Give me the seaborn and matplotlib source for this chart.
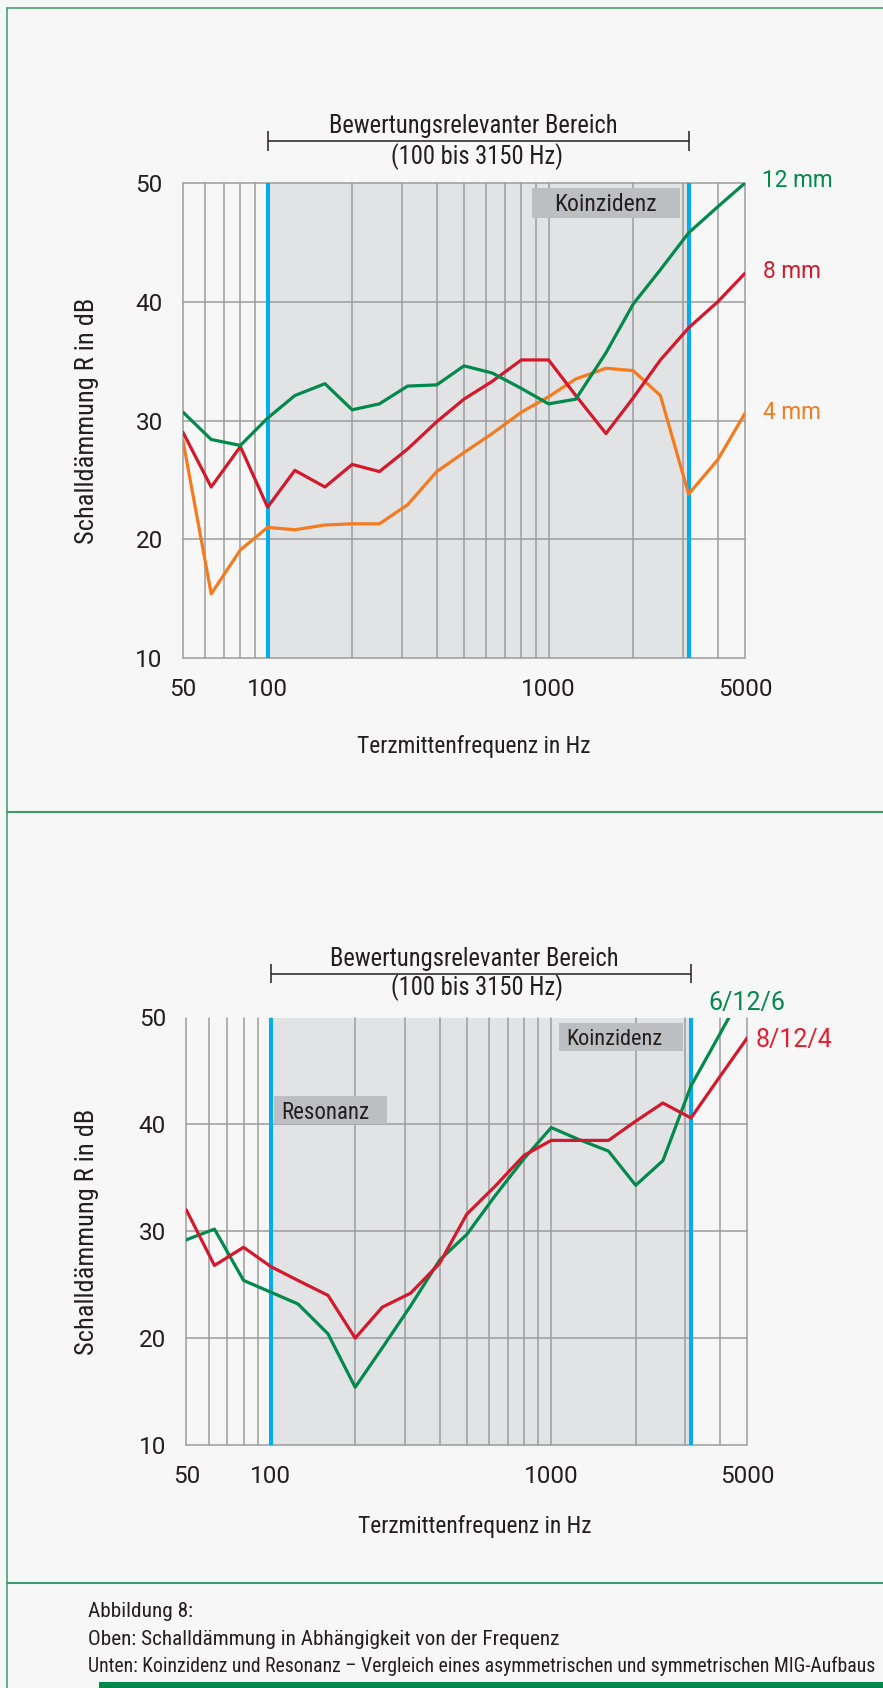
import matplotlib
matplotlib.use('Agg')
import matplotlib.pyplot as plt
import seaborn as sns
from matplotlib import font_manager as fm
from matplotlib.patches import Rectangle
from matplotlib.lines import Line2D
from matplotlib.ticker import NullFormatter, FixedLocator, FixedFormatter
from matplotlib.font_manager import FontProperties

# ---------------- data ----------------
FREQ = [50, 63, 80, 100, 125, 160, 200, 250, 315, 400, 500, 630, 800,
        1000, 1250, 1600, 2000, 2500, 3150, 4000, 5000]

# top chart
R_12MM = [30.7, 28.4, 27.9, 30.2, 32.1, 33.1, 30.9, 31.4, 32.9, 33.0, 34.6,
          34.0, 32.7, 31.4, 31.8, 35.7, 39.8, 42.7, 45.8, 48.0, 50.0]
R_8MM = [29.0, 24.4, 27.8, 22.7, 25.8, 24.4, 26.3, 25.7, 27.6, 29.9, 31.8,
         33.3, 35.1, 35.1, 32.1, 28.9, 31.9, 35.1, 37.8, 40.0, 42.4]
R_4MM = [28.3, 15.4, 19.1, 21.0, 20.8, 21.2, 21.3, 21.3, 22.9, 25.7, 27.3,
         28.9, 30.7, 32.0, 33.5, 34.4, 34.2, 32.1, 23.8, 26.7, 30.6]

# bottom chart
R_6_12_6 = [29.2, 30.2, 25.4, 24.3, 23.2, 20.4, 15.4, 19.1, 23.0, 27.3, 29.7,
            33.3, 36.8, 39.7, 38.6, 37.5, 34.3, 36.6, 43.6, 48.5, 53.1]
R_8_12_4 = [32.0, 26.8, 28.5, 26.7, 25.4, 24.0, 20.0, 22.9, 24.2, 27.0, 31.6,
            34.2, 37.1, 38.5, 38.5, 38.5, 40.3, 42.0, 40.6, 44.5, 48.1]

RANGE_HZ = [100, 3150]
X_TICKS = [50, 100, 1000, 5000]
X_TICK_LABELS = ['50', '100', '1000', '5000']
X_GRID_MINOR = [60, 70, 80, 90, 200, 300, 400, 500, 600, 700, 800, 900,
                2000, 3000, 4000]
Y_TICKS = [10, 20, 30, 40, 50]
Y_TICK_LABELS = ['10', '20', '30', '40', '50']

# ---------------- style ----------------
BG = '#f7f7f7'
SHADE = '#e2e3e5'
GRID = '#9c9c9e'
BLUE = '#00aeef'
GREEN = '#00894c'
RED = '#d3192c'
RED2 = '#e3202f'
ORANGE = '#f47b20'
BOX = '#bdbec1'
TXT = '#231f20'
FRAME = '#3d9b6c'

sns.set_style('white', rc={'axes.facecolor': BG, 'figure.facecolor': BG})
plt.rcParams['font.family'] = ['Roboto', 'DejaVu Sans']
plt.rcParams['text.color'] = TXT
plt.rcParams['xtick.color'] = TXT
plt.rcParams['ytick.color'] = TXT


def pick_condensed():
    prefs = ['roboto condensed', 'liberation sans narrow', 'noto sans',
             'open sans', 'dejavu sans', 'lato', 'inter']
    cands = []
    for f in fm.fontManager.ttflist:
        name = f.name.lower()
        st = f.stretch
        if isinstance(st, str):
            cond = st in ('condensed', 'semi-condensed', 'extra-condensed',
                          'ultra-condensed')
        else:
            cond = st < 500
        cond = cond or 'condensed' in name or 'narrow' in name
        if not cond or f.style != 'normal':
            continue
        w = f.weight
        if isinstance(w, str):
            w = {'normal': 400, 'regular': 400, 'book': 400}.get(w.lower(), 700)
        if w != 400:
            continue
        rank = next((i for i, p in enumerate(prefs) if name.startswith(p)),
                    len(prefs))
        fn = f.fname.lower().replace('-', '').replace('_', '')
        sub = 0.0
        if 'semicondensed' in fn or 'semi-condensed' == st:
            sub = 0.4
        elif 'extracondensed' in fn or 'ultracondensed' in fn:
            sub = 0.6
        cands.append((rank + sub, f.fname))
    if cands:
        cands.sort()
        return FontProperties(fname=cands[0][1])
    return FontProperties(family=['Roboto', 'DejaVu Sans'])


COND = pick_condensed()


def cfp(size):
    p = COND.copy()
    p.set_size(size)
    return p


W, H = 883, 1688


def fx(px):
    return px / W


def fy(py):
    return 1 - py / H


fig = plt.figure(figsize=(W / 100, H / 100), dpi=100)
fig.patch.set_facecolor(BG)

ax1 = fig.add_axes([fx(183), fy(658), (745 - 183) / W, (658 - 183) / H])
ax2 = fig.add_axes([fx(186.3), fy(1445), (747.3 - 186.3) / W, (1445 - 1017.5) / H])

# ---- lines (seaborn) ----
sns.lineplot(x=FREQ, y=R_4MM, ax=ax1, color=ORANGE, lw=2.3, zorder=3)
sns.lineplot(x=FREQ, y=R_8MM, ax=ax1, color=RED, lw=2.3, zorder=3.1)
sns.lineplot(x=FREQ, y=R_12MM, ax=ax1, color=GREEN, lw=2.3, zorder=3.2)

sns.lineplot(x=FREQ, y=R_6_12_6, ax=ax2, color=GREEN, lw=2.3, zorder=3)
sns.lineplot(x=FREQ, y=R_8_12_4, ax=ax2, color=RED, lw=2.3, zorder=3.1)

fit_list = []


def setup(ax, top_line=True):
    ax.set_facecolor(BG)
    ax.set_xscale('log')
    ax.set_xlim(50, 5000)
    ax.set_ylim(10, 50)
    for s in ax.spines.values():
        s.set_visible(False)
    ax.set_axisbelow(True)
    ax.axvspan(RANGE_HZ[0], RANGE_HZ[1], color=SHADE, lw=0, zorder=0.2)
    ax.xaxis.set_major_locator(FixedLocator(X_TICKS))
    ax.xaxis.set_major_formatter(FixedFormatter(X_TICK_LABELS))
    ax.xaxis.set_minor_locator(FixedLocator(X_GRID_MINOR))
    ax.xaxis.set_minor_formatter(NullFormatter())
    ax.yaxis.set_major_locator(FixedLocator(Y_TICKS))
    ax.yaxis.set_major_formatter(FixedFormatter(Y_TICK_LABELS))
    ax.grid(True, which='both', axis='x', color=GRID, lw=1.1)
    ax.grid(True, which='major', axis='y', color=GRID, lw=1.1)
    ax.tick_params(axis='x', which='major', length=8.4, width=1.1, color=GRID,
                   pad=6, labelsize=17.5, labelcolor=TXT)
    ax.tick_params(axis='x', which='minor', length=0)
    ax.tick_params(axis='y', which='major', length=8.6, width=1.1, color=GRID,
                   pad=6, labelsize=17.5, labelcolor=TXT)
    ax.set_xlabel('')
    ax.set_ylabel('')
    for f0 in RANGE_HZ:
        ax.axvline(f0, color=BLUE, lw=2.9, zorder=1.5)


def tune_ticks(ax, top_line=True):
    for i, t in enumerate(ax.xaxis.get_major_ticks()):
        t.gridline.set_clip_on(False)
        if i > 0:
            t.tick1line.set_visible(False)
    for t in ax.xaxis.get_minor_ticks():
        t.gridline.set_clip_on(False)
    yt = ax.yaxis.get_major_ticks()
    for t in yt:
        t.gridline.set_clip_on(False)
    if not top_line:
        yt[-1].gridline.set_visible(False)
        yt[-1].tick1line.set_visible(False)


setup(ax1, top_line=True)
setup(ax2, top_line=False)

# ---- brackets + range texts ----
def bracket(ax, yline, half, yt1, yt2, xc1, xc2):
    tr = ax.get_xaxis_transform()
    ax.hlines(yline, RANGE_HZ[0], RANGE_HZ[1], transform=tr, colors=TXT,
              lw=1.1, clip_on=False)
    ax.vlines(RANGE_HZ, yline - half, yline + half, transform=tr, colors=TXT,
              lw=1.1, clip_on=False)
    t1 = ax.text(xc1, yt1, 'Bewertungsrelevanter Bereich', transform=ax.transAxes,
                 ha='center', va='baseline', fontproperties=cfp(17), color=TXT)
    t2 = ax.text(xc2, yt2, '(100 bis 3150 Hz)', transform=ax.transAxes,
                 ha='center', va='baseline', fontproperties=cfp(17), color=TXT)
    fit_list.append(([t1, t2], 288, 'w'))


bracket(ax1, (658 - 141) / 475, 9.6 / 475, (658 - 133) / 475, (658 - 164) / 475,
        (473 - 183) / 562, (477 - 183) / 562)
bracket(ax2, (1445 - 973.5) / 427.5, 9.6 / 427.5, (1445 - 966) / 427.5,
        (1445 - 995) / 427.5, (474 - 186.3) / 561, (477 - 186.3) / 561)

# ---- label boxes ----
def label_box(ax, x0, x1, y0, y1, text, tx, ty, ha, width_px):
    ax.add_patch(Rectangle((x0, y0), x1 - x0, y1 - y0, transform=ax.transAxes,
                           facecolor=BOX, edgecolor='none', zorder=2))
    t = ax.text(tx, ty, text, transform=ax.transAxes, ha=ha, va='baseline',
                fontproperties=cfp(17), color=TXT, zorder=2.5)
    fit_list.append(([t], width_px, 'w'))


label_box(ax1, (532 - 183) / 562, (680 - 183) / 562, (658 - 218.4) / 475,
          (658 - 188) / 475, 'Koinzidenz', (605.8 - 183) / 562, (658 - 211) / 475,
          'center', 102.5)
label_box(ax2, (559 - 186.3) / 561, (683 - 186.3) / 561, (1445 - 1051) / 427.5,
          (1445 - 1023) / 427.5, 'Koinzidenz', (566 - 186.3) / 561,
          (1445 - 1045) / 427.5, 'left', 96)
label_box(ax2, (273.6 - 186.3) / 561, (387 - 186.3) / 561, (1445 - 1123.6) / 427.5,
          (1445 - 1096) / 427.5, 'Resonanz', (281 - 186.3) / 561,
          (1445 - 1119) / 427.5, 'left', 88)

# ---- series labels ----
ax1.text((761.7 - 183) / 562, (658 - 186.7) / 475, '12 mm', transform=ax1.transAxes,
         color=GREEN, fontsize=16.3, va='baseline', ha='left', clip_on=False)
ax1.text((762.7 - 183) / 562, (658 - 278) / 475, '8 mm', transform=ax1.transAxes,
         color=RED, fontsize=16.3, va='baseline', ha='left', clip_on=False)
ax1.text((763 - 183) / 562, (658 - 419) / 475, '4 mm', transform=ax1.transAxes,
         color=ORANGE, fontsize=16.3, va='baseline', ha='left', clip_on=False)
ax2.text((708.3 - 186.3) / 561, (1445 - 1010) / 427.5, '6/12/6',
         transform=ax2.transAxes, color=GREEN, fontsize=18, va='baseline',
         ha='left', clip_on=False)
ax2.text((756 - 186.3) / 561, (1445 - 1047) / 427.5, '8/12/4',
         transform=ax2.transAxes, color=RED2, fontsize=18, va='baseline',
         ha='left', clip_on=False)

# ---- axis labels ----
for ax, xl, yl in ((ax1, ((474 - 183) / 562, (658 - 753) / 475),
                    ((87 - 183) / 562, 0.5)),
                   (ax2, ((475 - 186.3) / 561, (1445 - 1533) / 427.5),
                    ((87 - 186.3) / 561, (1445 - 1232) / 427.5))):
    ax.set_xlabel('Terzmittenfrequenz in Hz', fontproperties=cfp(17), va='baseline',
                  color=TXT)
    ax.xaxis.set_label_coords(*xl)
    ax.set_ylabel('Schalldämmung R in dB', fontproperties=cfp(17), va='center',
                  color=TXT)
    ax.yaxis.set_label_coords(*yl)
    fit_list.append(([ax.xaxis.label], 233, 'w'))
    fit_list.append(([ax.yaxis.label], 246, 'h'))

# ---- caption ----
cap1 = fig.text(fx(88), fy(1617), 'Abbildung 8:', va='baseline', ha='left',
                fontproperties=cfp(15), color=TXT)
cap2 = fig.text(fx(88), fy(1645), 'Oben: Schalldämmung in Abhängigkeit von der Frequenz',
                va='baseline', ha='left', fontproperties=cfp(15), color=TXT)
cap3 = fig.text(fx(88), fy(1672),
                'Unten: Koinzidenz und Resonanz \u2013 Vergleich eines asymmetrischen '
                'und symmetrischen MIG-Aufbaus',
                va='baseline', ha='left', fontproperties=cfp(15), color=TXT)
fit_list.append(([cap2, cap1], 472, 'w'))
fit_list.append(([cap3], 790, 'w'))

# ---- frame ----
fig.add_artist(Line2D([fx(7), fx(7)], [fy(8), 0], transform=fig.transFigure,
                      color=FRAME, lw=1.1))
fig.add_artist(Line2D([fx(7), 1], [fy(8), fy(8)], transform=fig.transFigure,
                      color=FRAME, lw=1.1))
fig.add_artist(Line2D([fx(7), 1], [fy(812), fy(812)], transform=fig.transFigure,
                      color=FRAME, lw=1.5))
fig.add_artist(Line2D([fx(7), 1], [fy(1583), fy(1583)], transform=fig.transFigure,
                      color=FRAME, lw=1.5))
fig.add_artist(Rectangle((fx(99), 0), 1 - fx(99), 6 / H, transform=fig.transFigure,
                         facecolor='#00884a', edgecolor='none'))

# ---- fit condensed texts to measured widths ----
fig.canvas.draw()
tune_ticks(ax1, True)
tune_ticks(ax2, False)
r = fig.canvas.get_renderer()
for texts, target, mode in fit_list:
    bb = texts[0].get_window_extent(renderer=r)
    cur = bb.width if mode == 'w' else bb.height
    if cur > 0:
        scale = target / cur
        new = texts[0].get_fontsize() * scale
        for t in texts:
            t.set_fontsize(new)

fig.savefig('out.png', dpi=100, facecolor=BG)
